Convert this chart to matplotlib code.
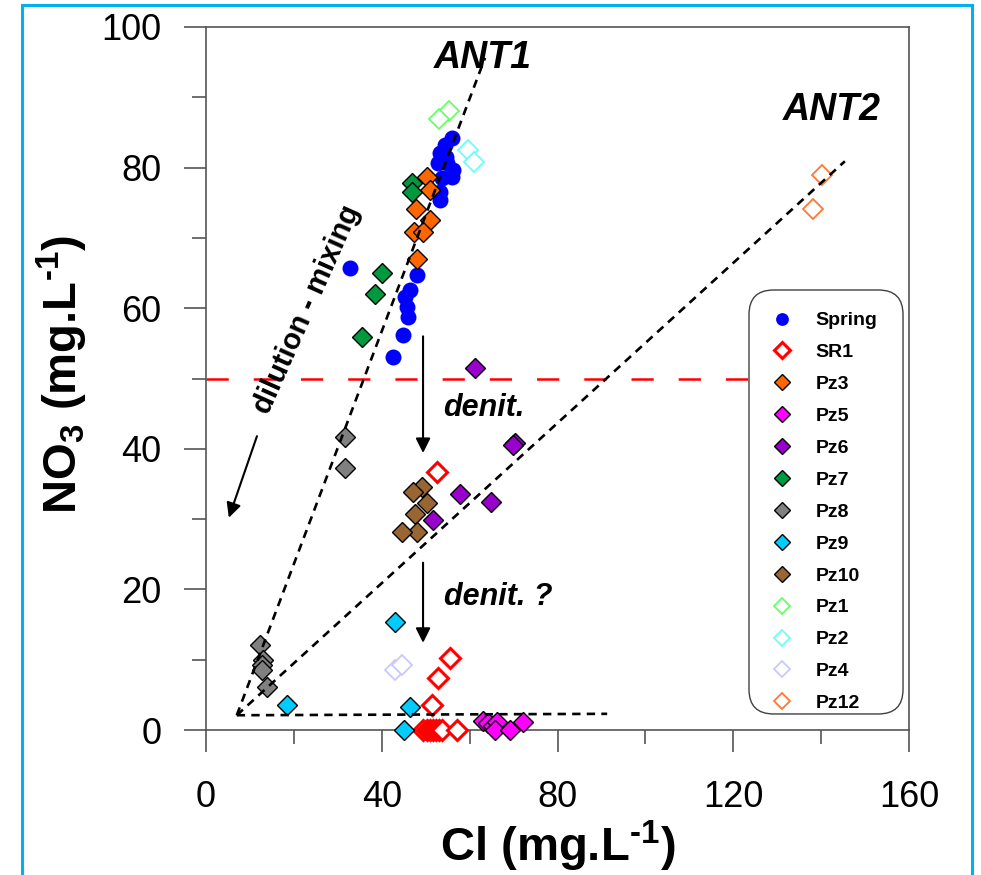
import matplotlib
matplotlib.use("Agg")
import matplotlib.pyplot as plt
from matplotlib.patches import Rectangle, FancyBboxPatch

plt.rcParams['font.family'] = ['Liberation Sans', 'DejaVu Sans']
plt.rcParams['mathtext.fontset'] = 'custom'
plt.rcParams['mathtext.rm'] = 'Liberation Sans:bold'
plt.rcParams['mathtext.bf'] = 'Liberation Sans:bold'
plt.rcParams['lines.scale_dashes'] = False

# --- data (Cl, NO3 in mg/L) ---
spring_cl = [32.8, 42.6, 44.8, 46.0, 45.7, 45.3, 46.4, 48.0, 53.3, 53.3,
             53.7, 56.0, 52.8, 54.8, 53.3, 54.4, 56.0, 56.2, 54.6]
spring_no3 = [65.7, 53.1, 56.2, 58.7, 60.2, 61.6, 62.6, 64.7, 75.4, 76.5,
              78.5, 78.7, 80.7, 80.7, 82.1, 83.2, 84.2, 79.7, 81.5]

sr1_cl = [52.6, 55.5, 52.8, 51.4, 49.5, 50.2, 50.9, 51.6, 52.3, 53.0, 53.7, 57.1]
sr1_no3 = [36.7, 10.2, 7.4, 3.6, 0, 0, 0, 0, 0, 0, 0, 0]

pz3_cl = [50.2, 51.0, 47.8, 51.0, 47.4, 49.4, 48.0]
pz3_no3 = [78.7, 76.8, 74.1, 72.5, 70.9, 70.9, 67.0]

pz5_cl = [63.0, 64.2, 65.3, 66.2, 65.8, 69.2, 72.1]
pz5_no3 = [1.3, 1.0, 0.6, 1.2, 0.0, 0.0, 1.2]

pz6_cl = [61.2, 70.3, 69.9, 57.8, 64.9, 51.7]
pz6_no3 = [51.5, 40.8, 40.5, 33.6, 32.5, 29.9]

pz7_cl = [46.9, 46.9, 40.1, 38.5, 35.5]
pz7_no3 = [77.8, 76.5, 65.0, 62.0, 55.9]

pz8_cl = [31.6, 31.6, 12.3, 13.0, 12.7, 12.7, 13.9]
pz8_no3 = [41.7, 37.3, 12.1, 10.0, 9.2, 8.5, 6.1]

pz9_cl = [43.0, 18.4, 46.4, 45.1]
pz9_no3 = [15.4, 3.6, 3.3, 0.0]

pz10_cl = [49.2, 47.1, 50.3, 47.6, 48.0, 44.6]
pz10_no3 = [34.6, 33.9, 32.3, 30.7, 28.2, 28.2]

pz1_cl = [55.3, 53.0]
pz1_no3 = [88.1, 86.9]
pz2_cl = [59.6, 61.0]
pz2_no3 = [82.5, 80.8]
pz4_cl = [43.0, 44.6]
pz4_no3 = [8.5, 9.2]
pz12_cl = [140.2, 138.1]
pz12_no3 = [79.0, 74.1]

# end-member mixing lines (from common origin)
origin = (7.0, 2.1)
ant1_end = (63.5, 95.6)
ant2_end = (145.4, 80.9)
flat_end = (91.3, 2.3)
no3_limit = 50

# (label, x, y, marker, face, edge, edge width)
series = [
    ("Spring", spring_cl, spring_no3, 'o', '#0000FF', '#0000FF', 0),
    ("SR1", sr1_cl, sr1_no3, 'D', 'white', '#FF0000', 2.2),
    ("Pz3", pz3_cl, pz3_no3, 'D', '#FF6600', 'black', 1.0),
    ("Pz5", pz5_cl, pz5_no3, 'D', '#FF00FF', 'black', 1.0),
    ("Pz6", pz6_cl, pz6_no3, 'D', '#9900CC', 'black', 1.0),
    ("Pz7", pz7_cl, pz7_no3, 'D', '#009A3E', 'black', 1.0),
    ("Pz8", pz8_cl, pz8_no3, 'D', '#808080', 'black', 1.0),
    ("Pz9", pz9_cl, pz9_no3, 'D', '#00CCFF', 'black', 1.0),
    ("Pz10", pz10_cl, pz10_no3, 'D', '#996633', 'black', 1.0),
    ("Pz1", pz1_cl, pz1_no3, 'D', 'white', '#66FF66', 1.3),
    ("Pz2", pz2_cl, pz2_no3, 'D', 'white', '#66FFFF', 1.3),
    ("Pz4", pz4_cl, pz4_no3, 'D', 'white', '#C8C8FF', 1.3),
    ("Pz12", pz12_cl, pz12_no3, 'D', 'white', '#FF7733', 1.3),
]

fig = plt.figure(figsize=(9.81, 8.75), dpi=100)
ax = fig.add_axes([206 / 981, 145 / 875, 703 / 981, 703 / 875])

for name, xs, ys, mk, fc, ec, ew in series:
    ms = 11.5 if mk == 'o' else 10
    ax.plot(xs, ys, ls='none', marker=mk, ms=ms, mfc=fc, mec=ec, mew=ew,
            label=name, clip_on=False, zorder=3)

# mixing lines
dash = (0, (6, 4.5))
for end in (ant1_end, ant2_end, flat_end):
    ax.plot([origin[0], end[0]], [origin[1], end[1]], color='black', lw=1.9,
            ls=dash, zorder=4)

ax.axhline(no3_limit, color='#FF0000', lw=1.8, ls=(0, (16, 18)), zorder=2)

# arrows
arrow = dict(arrowstyle='-|>', color='black', lw=1.5, mutation_scale=22,
             shrinkA=0, shrinkB=0)
ax.annotate('', xy=(5.2, 30.2), xytext=(11.6, 41.8), arrowprops=arrow)
ax.annotate('', xy=(49.4, 39.4), xytext=(49.4, 56.0), arrowprops=arrow)
ax.annotate('', xy=(49.4, 12.4), xytext=(49.4, 23.8), arrowprops=arrow)

ax.text(63.0, 95.6, "ANT1", fontsize=27, fontweight='bold', style='italic',
        ha='center', va='center')
ax.text(142.5, 88.2, "ANT2", fontsize=27, fontweight='bold', style='italic',
        ha='center', va='center')
ax.text(63.3, 45.8, "denit.", fontsize=22, fontweight='bold', style='italic',
        ha='center', va='center')
ax.text(66.5, 18.9, "denit. ?", fontsize=22, fontweight='bold', style='italic',
        ha='center', va='center')
ax.text(23.0, 59.8, "dilution - mixing", fontsize=21, fontweight='bold',
        ha='center', va='center', rotation=66, rotation_mode='anchor')

ax.set_xlim(0, 160)
ax.set_ylim(0, 100)
ax.set_xticks([0, 40, 80, 120, 160])
ax.set_xticks([20, 60, 100, 140], minor=True)
ax.set_yticks([0, 20, 40, 60, 80, 100])
ax.set_yticks([10, 30, 50, 70, 90], minor=True)
ax.tick_params(which='both', direction='out', color='#555555', width=1.2,
               labelsize=26, top=False, right=False)
ax.tick_params(which='major', length=16)
ax.tick_params(which='minor', length=10)
ax.tick_params(axis='x', pad=20)
ax.tick_params(axis='y', pad=16)
for sp in ax.spines.values():
    sp.set_color('#555555')
    sp.set_linewidth(1.2)

fig.text(558 / 981, 1 - 846 / 875, r'Cl (mg.L$^{\text{-1}}$)', fontsize=34,
         fontweight='bold', ha='center', va='center')
fig.text(62 / 981, 1 - 374 / 875, r'NO$_{\text{3}}$ (mg.L$^{\text{-1}}$)',
         fontsize=34, fontweight='bold', ha='center', va='center', rotation=90)

# legend with rounded frame
box = FancyBboxPatch((0.7724, 0.0228), 0.2191, 0.6031,
                     boxstyle='round,pad=0,rounding_size=0.035',
                     transform=ax.transAxes, fc='white', ec='#404040', lw=1.0,
                     zorder=5)
ax.add_patch(box)
leg = ax.legend(loc='upper left', bbox_to_anchor=(0.791, 0.595), frameon=False,
                borderpad=0, borderaxespad=0, handlelength=2.0,
                handletextpad=0.75, labelspacing=0.735, markerscale=0.8,
                prop={'size': 14, 'weight': 'bold'})
leg.set_zorder(6)

# blue outer frame
fig.patches.append(Rectangle((22 / 981, -0.05), 950 / 981, 1 - 5 / 875 + 0.05,
                             transform=fig.transFigure, fill=False,
                             ec='#00B0F0', lw=2.2))

fig.savefig("out.png", dpi=100)
